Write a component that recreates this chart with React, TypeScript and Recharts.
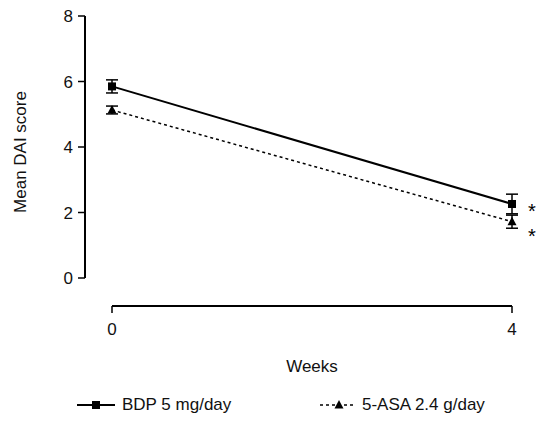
import React from "react";
import {
  LineChart,
  Line,
  XAxis,
  YAxis,
  ErrorBar,
  ReferenceLine,
  Legend,
  Label,
} from "recharts";

const weeks = [0, 4];
const bdpMean = [5.85, 2.26];
const bdpErr = [0.2, 0.3];
const asaMean = [5.13, 1.72];
const asaErr = [0.12, 0.2];
const yTicks = [0, 2, 4, 6, 8];
const xTicks = [0, 4];

const X_MIN = -0.27;
const Y_MIN = -0.855;
const FONT = "'Liberation Sans', Arial, sans-serif";

const data = weeks.map((w, i) => ({
  week: w,
  bdp: bdpMean[i],
  bdpErr: bdpErr[i],
  asa: asaMean[i],
  asaErr: asaErr[i],
}));

const Square = (props: any) => {
  const { cx, cy, index } = props;
  return <rect key={"s" + index} x={cx - 4} y={cy - 4} width={8} height={8} fill="#000" />;
};

const Triangle = (props: any) => {
  const { cx, cy, index } = props;
  return (
    <polygon
      key={"t" + index}
      points={`${cx},${cy - 5} ${cx - 4.5},${cy + 3.5} ${cx + 4.5},${cy + 3.5}`}
      fill="#000"
    />
  );
};

const star = (dy: number) => (props: any) => {
  const { x, y, index } = props;
  if (index !== weeks.length - 1) return null;
  return (
    <text key={"st" + index} x={x + 20} y={y + dy + 10} textAnchor="middle" fontSize={20} fontFamily={FONT} fill="#000">
      *
    </text>
  );
};

const LegendBox = () => (
  <div style={{ position: "relative", height: 24, fontFamily: FONT, fontSize: 17, color: "#111" }}>
    <svg width={539} height={24} style={{ position: "absolute", left: 0, top: 0 }}>
      <line x1={77} x2={115} y1={12} y2={12} stroke="#000" strokeWidth={2} />
      <rect x={92} y={8} width={8} height={8} fill="#000" />
      <line x1={320} x2={355} y1={12} y2={12} stroke="#000" strokeWidth={1.5} strokeDasharray="3 3" />
      <polygon points="339,7 334.5,15.5 343.5,15.5" fill="#000" />
    </svg>
    <span style={{ position: "absolute", left: 122, top: 2 }}>BDP 5 mg/day</span>
    <span style={{ position: "absolute", left: 362, top: 2 }}>5-ASA 2.4 g/day</span>
  </div>
);

export default function App() {
  return (
    <div style={{ position: "absolute", left: 0, top: 0 }}>
      <LineChart
        width={539}
        height={422}
        data={data}
        margin={{ top: 16, right: 27, bottom: 26, left: 0 }}
      >
        <XAxis
          dataKey="week"
          type="number"
          domain={[X_MIN, 4]}
          ticks={xTicks}
          axisLine={false}
          tickLine={{ stroke: "#000", strokeWidth: 1.5 }}
          tickSize={7}
          tickMargin={10}
          tick={{ fill: "#111", fontSize: 17, fontFamily: FONT }}
          height={66}
        >
          <Label
            content={(p: any) => {
              const vb = p.viewBox;
              return (
                <text x={vb.x + 27 + (vb.width - 27) / 2} y={vb.y + 66} textAnchor="middle" fontSize={17} fontFamily={FONT} fill="#111">
                  Weeks
                </text>
              );
            }}
          />
        </XAxis>
        <YAxis
          type="number"
          domain={[Y_MIN, 8]}
          ticks={yTicks}
          axisLine={false}
          tickLine={{ stroke: "#000", strokeWidth: 1.5 }}
          tickSize={7}
          tickMargin={5}
          tick={{ fill: "#111", fontSize: 17, fontFamily: FONT }}
          width={85}
        >
          <Label
            content={() => (
              <text
                x={0}
                y={0}
                transform="translate(26,152) rotate(-90)"
                textAnchor="middle"
                fontSize={17}
                fontFamily={FONT}
                fill="#111"
              >
                Mean DAI score
              </text>
            )}
          />
        </YAxis>
        <ReferenceLine
          segment={[{ x: X_MIN, y: 0 }, { x: X_MIN, y: 8 }]}
          stroke="#000"
          strokeWidth={2}
          ifOverflow="visible"
        />
        <ReferenceLine
          segment={[{ x: 0, y: Y_MIN }, { x: 4, y: Y_MIN }]}
          stroke="#000"
          strokeWidth={2}
          ifOverflow="visible"
        />
        <Line
          dataKey="bdp"
          stroke="#000"
          strokeWidth={2}
          dot={Square}
          activeDot={false}
          label={star(4)}
          isAnimationActive={false}
        >
          <ErrorBar dataKey="bdpErr" width={6} stroke="#000" strokeWidth={1.5} direction="y" />
        </Line>
        <Line
          dataKey="asa"
          stroke="#000"
          strokeWidth={1.5}
          strokeDasharray="3 3"
          dot={Triangle}
          activeDot={false}
          label={star(11)}
          isAnimationActive={false}
        >
          <ErrorBar dataKey="asaErr" width={6} stroke="#000" strokeWidth={1.5} direction="y" />
        </Line>
        <Legend
          content={() => <LegendBox />}
          wrapperStyle={{ left: 0, top: 393, width: 539, height: 24 }}
        />
      </LineChart>
    </div>
  );
}
